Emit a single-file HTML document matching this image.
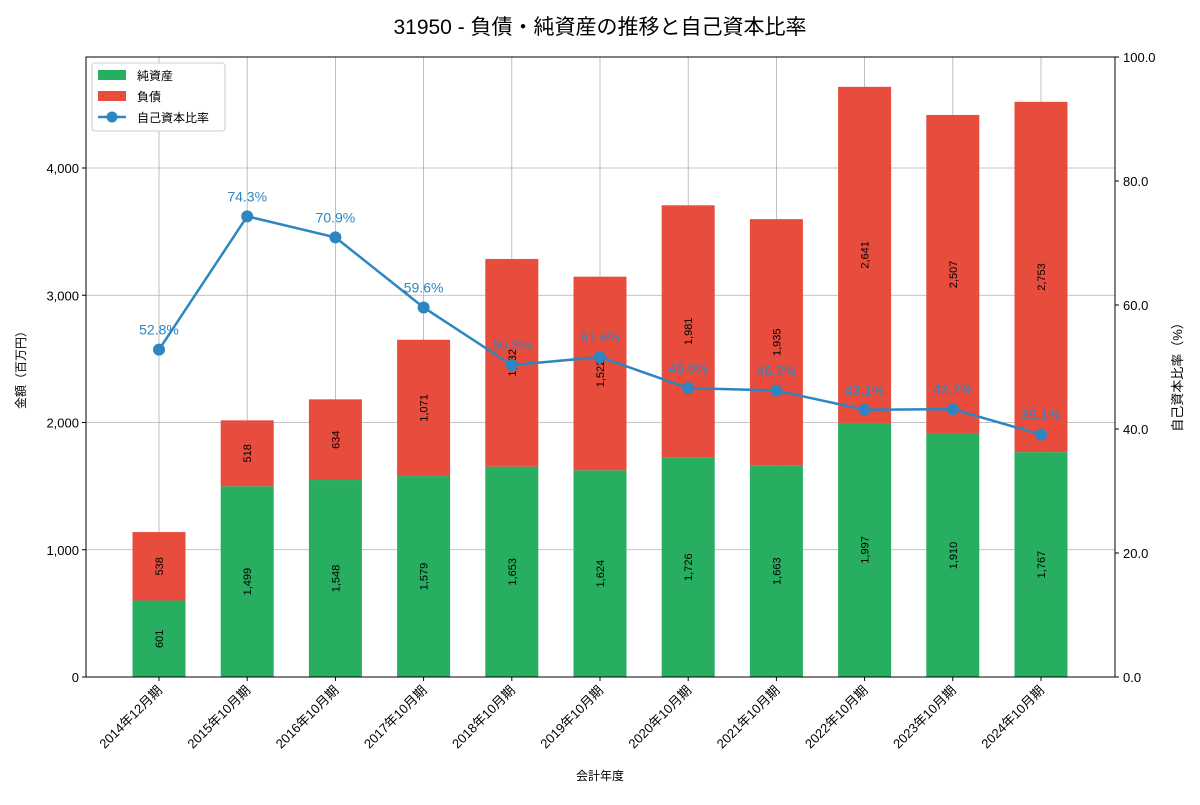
<!DOCTYPE html>
<html><head><meta charset="utf-8"><style>
body{margin:0;background:#fff;font-family:"Liberation Sans","Noto Sans CJK JP",sans-serif}
svg text{font-family:"Liberation Sans","Noto Sans CJK JP",sans-serif}
</style></head><body>
<svg id="c" width="1200" height="800">
<text x="600" y="34" font-size="21" text-anchor="middle">31950 - 負債・純資産の推移と自己資本比率</text>
<g id="grid"></g><g id="bars"></g><g id="line"></g><g id="axes"></g>
</svg>
<script>
const categories=["2014年12月期","2015年10月期","2016年10月期","2017年10月期","2018年10月期","2019年10月期","2020年10月期","2021年10月期","2022年10月期","2023年10月期","2024年10月期"];
const netAssets=[601,1499,1548,1579,1653,1624,1726,1663,1997,1910,1767];
const liabilities=[538,518,634,1071,1632,1522,1981,1935,2641,2507,2753];
const ratio=[52.8,74.3,70.9,59.6,50.3,51.6,46.6,46.2,43.1,43.2,39.1];
const leftTicks=[0,1000,2000,3000,4000];
const rightTicks=[0,20,40,60,80,100];
const NS="http://www.w3.org/2000/svg";
const L=86,R=1115,T=57,B=677;
const yL=v=>B-v*(677-168)/4000;
const yR=v=>B-v*(B-T)/100;
const xC=i=>159+i*88.2;
function mk(p,tag,a,txt){const e=document.createElementNS(NS,tag);for(const k in a)e.setAttribute(k,a[k]);if(txt!==undefined)e.textContent=txt;document.getElementById(p).appendChild(e);return e;}
const fmt=v=>v.toLocaleString("en-US");
// grid
categories.forEach((c,i)=>{const e=mk("grid","line",{x1:xC(i),x2:xC(i),y1:T,y2:B,stroke:"#b0b0b0","stroke-width":0.8});
});
leftTicks.forEach(v=>{const e=mk("grid","line",{x1:L,x2:R,y1:yL(v),y2:yL(v),stroke:"#b0b0b0","stroke-width":0.8});
});
// bars
categories.forEach((c,i)=>{
 const x=xC(i)-26.5,w=53;
 const g=mk("bars","rect",{x:x,y:yL(netAssets[i]),width:w,height:B-yL(netAssets[i]),fill:"#27ae60"});
 
 const r=mk("bars","rect",{x:x,y:yL(netAssets[i]+liabilities[i]),width:w,height:yL(netAssets[i])-yL(netAssets[i]+liabilities[i]),fill:"#e74c3c"});
 
 const cy1=yL(netAssets[i]/2),cy2=yL(netAssets[i]+liabilities[i]/2);
 const t1=mk("bars","text",{x:xC(i)+4,y:cy1,"font-size":11,"text-anchor":"middle",transform:`rotate(-90 ${xC(i)+4} ${cy1})`},fmt(netAssets[i]));
 
 const t2=mk("bars","text",{x:xC(i)+4,y:cy2,"font-size":11,"text-anchor":"middle",transform:`rotate(-90 ${xC(i)+4} ${cy2})`},fmt(liabilities[i]));
 
});
// line
const pl=mk("line","polyline",{points:ratio.map((v,i)=>xC(i)+","+yR(v)).join(" "),fill:"none",stroke:"#2e86c1","stroke-width":2.5});

ratio.forEach((v,i)=>{
 const c=mk("line","circle",{cx:xC(i),cy:yR(v),r:6,fill:"#2e86c1"});
 
 const t=mk("line","text",{x:xC(i),y:yR(v)-15,"font-size":14,fill:"#2e86c1","text-anchor":"middle"},v.toFixed(1)+"%");
 
});
// axes
const fr=mk("axes","rect",{x:L,y:T,width:R-L,height:B-T,fill:"none",stroke:"#000","stroke-width":1});

leftTicks.forEach(v=>{mk("axes","line",{x1:L-4,x2:L,y1:yL(v),y2:yL(v),stroke:"#000"});
 const t=mk("axes","text",{x:L-7,y:yL(v)+5,"font-size":13,"text-anchor":"end"},fmt(v));
 });
rightTicks.forEach(v=>{mk("axes","line",{x1:R,x2:R+4,y1:yR(v),y2:yR(v),stroke:"#000"});
 const t=mk("axes","text",{x:R+8,y:yR(v)+5,"font-size":13},v.toFixed(1));
 });
categories.forEach((c,i)=>{mk("axes","line",{x1:xC(i),x2:xC(i),y1:B,y2:B+4,stroke:"#000"});
 const t=mk("axes","text",{x:xC(i)+4,y:B+14,"font-size":13,"text-anchor":"end",transform:`rotate(-45 ${xC(i)+4} ${B+14})`},c);
 });
</script>
<svg style="position:absolute;left:0;top:0" width="1200" height="800">
<text x="600" y="780" font-size="12" text-anchor="middle">会計年度</text>
<text x="25" y="367" font-size="12" text-anchor="middle" transform="rotate(-90 25 367)">金額（百万円）</text>
<text x="1182" y="374" font-size="13" text-anchor="middle" transform="rotate(-90 1182 374)">自己資本比率（%）</text>
<g>
<rect x="92" y="63" width="133" height="68" fill="#fff" stroke="#ccc" rx="3"/>
<rect x="98" y="70" width="28" height="10" fill="#27ae60"/>
<text x="137" y="80" font-size="12">純資産</text>
<rect x="98" y="91" width="28" height="10" fill="#e74c3c"/>
<text x="137" y="101" font-size="12">負債</text>
<line x1="98" x2="126" y1="117" y2="117" stroke="#2e86c1" stroke-width="2.5"/>
<circle cx="112" cy="117" r="5.5" fill="#2e86c1"/>
<text x="137" y="122" font-size="12">自己資本比率</text>
</g>
</svg>
</body></html>
